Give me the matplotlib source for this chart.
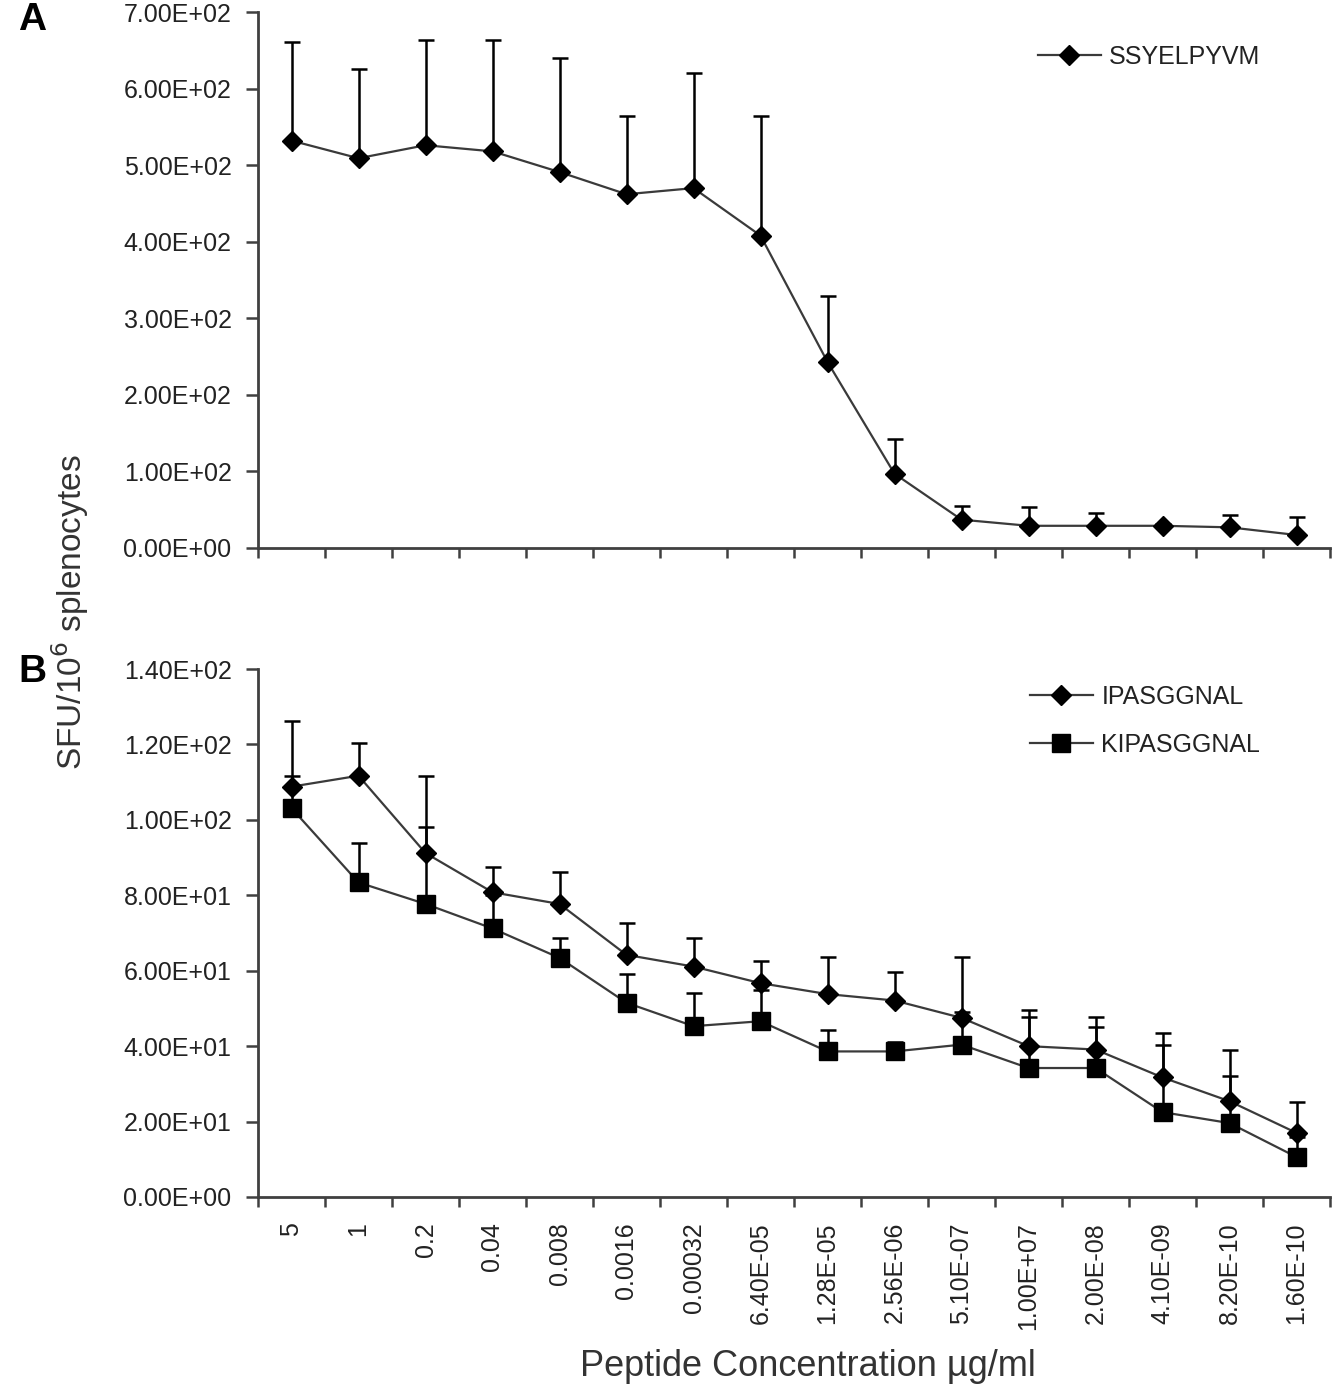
import matplotlib
matplotlib.use("Agg")
import matplotlib.pyplot as plt
from matplotlib.ticker import FuncFormatter, FixedLocator
import numpy as np

plt.rcParams['font.family'] = ['Liberation Sans', 'DejaVu Sans']

concentrations = ["5", "1", "0.2", "0.04", "0.008", "0.0016", "0.00032", "6.40E-05",
                  "1.28E-05", "2.56E-06", "5.10E-07", "1.00E+07", "2.00E-08", "4.10E-09",
                  "8.20E-10", "1.60E-10"]

# Panel A: SSYELPYVM
ssy_mean = [532, 509, 526, 518, 491, 462, 470, 408, 243, 97, 37, 29, 29, 29, 27, 17]
ssy_top = [661, 626, 664, 664, 640, 564, 620, 564, 329, 143, 55, 53, 46, 31, 43, 41]

# Panel B
ipa_mean = [108.8, 111.7, 91.2, 80.8, 77.7, 64.2, 61.1, 56.7, 53.8, 52.1, 47.5, 40.0, 39.1, 31.7, 25.4, 17.0]
ipa_top = [126.2, 120.3, 111.7, 87.6, 86.1, 72.6, 68.7, 62.5, 63.6, 59.6, 63.6, 49.7, 47.7, 43.5, 39.1, 25.2]
kipa_mean = [103.1, 83.4, 77.7, 71.2, 63.4, 51.5, 45.3, 46.6, 38.6, 38.6, 40.4, 34.2, 34.2, 22.5, 19.6, 10.6]
kipa_top = [111.7, 93.8, 98.0, 80.0, 68.7, 59.0, 54.1, 55.0, 44.4, 41.0, 49.0, 47.7, 45.0, 40.4, 32.0, 16.0]

W, H = 1335, 1394
fig = plt.figure(figsize=(W / 100, H / 100), dpi=100)

def fx(px):
    return px / W

def fy(py):
    return 1 - py / H

axA = fig.add_axes([fx(258), fy(548), fx(1330) - fx(258), fy(12) - fy(548)])
axB = fig.add_axes([fx(258), fy(1197), fx(1330) - fx(258), fy(669) - fy(1197)])

x = np.arange(len(concentrations))
line_col = "#3a3a3a"
spine_col = "#404040"
tick_fs = 18

def style(ax, ymax, ystep, show_labels):
    ax.set_xlim(-0.5, len(concentrations) - 0.5)
    ax.set_ylim(0, ymax)
    ax.set_yticks(np.arange(0, ymax + ystep / 2, ystep))
    ax.yaxis.set_major_formatter(FuncFormatter(lambda v, p: "%.2E" % v))
    for s in ["top", "right"]:
        ax.spines[s].set_visible(False)
    for s in ["left", "bottom"]:
        ax.spines[s].set_color(spine_col)
        ax.spines[s].set_linewidth(2.0)
    ax.xaxis.set_major_locator(FixedLocator(np.arange(-0.5, len(concentrations), 1.0)))
    ax.xaxis.set_major_formatter(FuncFormatter(lambda v, p: ""))
    ax.xaxis.set_minor_locator(FixedLocator(x))
    if show_labels:
        ax.set_xticks(x, labels=concentrations, minor=True)
        for lab in ax.get_xticklabels(minor=True):
            lab.set_rotation(90)
            lab.set_va("top")
            lab.set_ha("center")
    ax.tick_params(axis="x", which="major", length=7, width=1.8, color=spine_col, direction="out")
    ax.tick_params(axis="x", which="minor", length=0, labelsize=tick_fs, pad=18, labelcolor="#222222")
    ax.tick_params(axis="y", length=9, width=1.8, color=spine_col, labelsize=tick_fs,
                   pad=10, labelcolor="#222222")

def series(ax, mean, top, marker, ms, label):
    mean = np.array(mean)
    top = np.array(top)
    err = np.vstack([np.zeros_like(mean), top - mean])
    ax.errorbar(x, mean, yerr=err, fmt="none", ecolor="black", elinewidth=1.8,
                capsize=6, capthick=1.8, zorder=2)
    ax.plot(x, mean, color=line_col, lw=1.6, marker=marker, ms=ms, mfc="black",
            mec="black", label=label, zorder=3)

series(axA, ssy_mean, ssy_top, "D", 10, "SSYELPYVM")
style(axA, 700, 100, False)

series(axB, ipa_mean, ipa_top, "D", 10, "IPASGGNAL")
series(axB, kipa_mean, kipa_top, "s", 13, "KIPASGGNAL")
style(axB, 140, 20, True)

legA = axA.legend(loc="center left", bbox_to_anchor=(fx(1038), fy(57)),
                  bbox_transform=fig.transFigure, frameon=False, fontsize=18,
                  handlelength=2.5, handletextpad=0.35, borderpad=0, borderaxespad=0)
legB = axB.legend(loc="center left", bbox_to_anchor=(fx(1030), fy(721)),
                  bbox_transform=fig.transFigure, frameon=False, fontsize=18,
                  handlelength=2.5, handletextpad=0.35, borderpad=0, borderaxespad=0,
                  labelspacing=0.95)
for leg in (legA, legB):
    for t in leg.get_texts():
        t.set_color("#222222")

fig.text(fx(18), fy(20), "A", fontsize=28, fontweight="bold", ha="left", va="center")
fig.text(fx(18), fy(672), "B", fontsize=28, fontweight="bold", ha="left", va="center")

fig.text(fx(70), fy(612), "SFU/10$^6$ splenocytes", fontsize=24, rotation=90,
         ha="center", va="center", color="#333333")
fig.text(fx(808), fy(1366), "Peptide Concentration µg/ml", fontsize=26,
         ha="center", va="center", color="#333333")

fig.savefig("out.png", dpi=100)
